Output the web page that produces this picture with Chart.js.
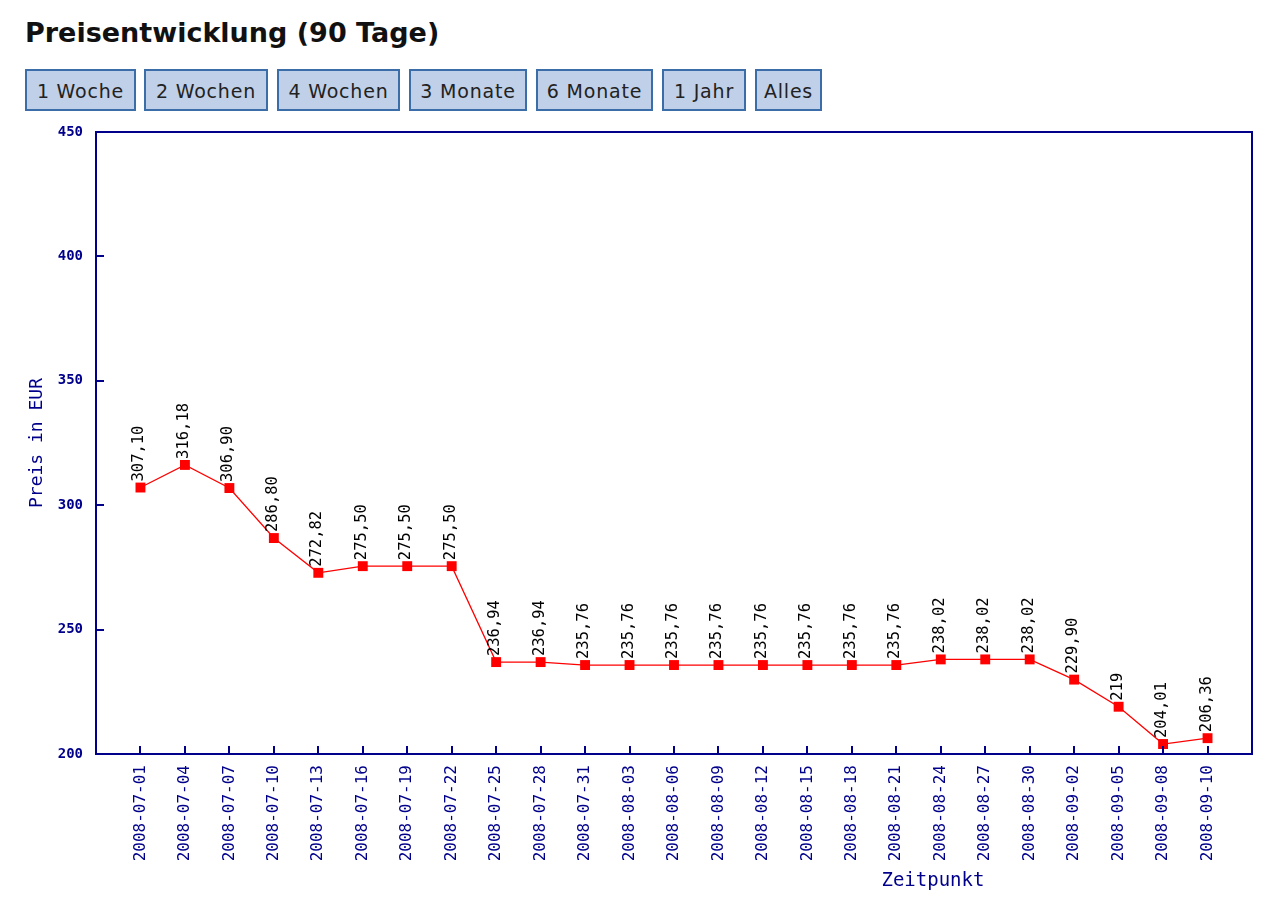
<!DOCTYPE html>
<html>
<head>
<meta charset="utf-8">
<script src="https://cdn.jsdelivr.net/npm/chart.js@4.4.0/dist/chart.umd.min.js"></script>
<style>
  html, body { margin: 0; padding: 0; background: #ffffff; width: 1280px; height: 900px; overflow: hidden; }
  h1 { position: absolute; left: 25px; top: 17px; margin: 0; font: bold 27px "DejaVu Sans", Verdana, sans-serif; color: #111; letter-spacing: 0px; }
  .btn { position: absolute; top: 69px; height: 42px; box-sizing: border-box; border: 2px solid #3b6ea8; background: #c0d0e8;
         font: 19px "DejaVu Sans", Verdana, sans-serif; letter-spacing: 0.8px; color: #222; display: flex; align-items: center; justify-content: center; padding-top: 1px; }
  #wrap { position: absolute; left: 0; top: 120px; width: 1280px; height: 780px; }
</style>
</head>
<body>
<h1>Preisentwicklung (90 Tage)</h1>
<div id="btns"></div>
<div id="wrap"><canvas id="c" width="1280" height="780"></canvas></div>
<script>
const dates = ['2008-07-01','2008-07-04','2008-07-07','2008-07-10','2008-07-13','2008-07-16','2008-07-19','2008-07-22',
  '2008-07-25','2008-07-28','2008-07-31','2008-08-03','2008-08-06','2008-08-09','2008-08-12','2008-08-15','2008-08-18',
  '2008-08-21','2008-08-24','2008-08-27','2008-08-30','2008-09-02','2008-09-05','2008-09-08','2008-09-10'];
const prices = [307.10, 316.18, 306.90, 286.80, 272.82, 275.50, 275.50, 275.50,
  236.94, 236.94, 235.76, 235.76, 235.76, 235.76, 235.76, 235.76, 235.76,
  235.76, 238.02, 238.02, 238.02, 229.90, 219, 204.01, 206.36];
const yTicks = [200, 250, 300, 350, 400, 450];
const buttonLabels = ['1 Woche', '2 Wochen', '4 Wochen', '3 Monate', '6 Monate', '1 Jahr', 'Alles'];
const titleText = 'Preisentwicklung (90 Tage)';
const yAxisTitle = 'Preis in EUR';
const xAxisTitle = 'Zeitpunkt';

// buttons (HTML layout)
const btnBoxes = [[25,111],[144,124],[277,123],[409,118],[536,117],[662,84],[755,67]];
const btnsEl = document.getElementById('btns');
buttonLabels.forEach((t, i) => {
  const d = document.createElement('div');
  d.className = 'btn';
  d.textContent = t;
  d.style.left = btnBoxes[i][0] + 'px';
  d.style.width = btnBoxes[i][1] + 'px';
  btnsEl.appendChild(d);
});

const NAVY = '#00008b';
const fmt = v => Number.isInteger(v) ? String(v) : v.toFixed(2).replace('.', ',');

const framePlugin = {
  id: 'frame',
  afterDraw(chart) {
    const {ctx, chartArea: a, scales} = chart;
    ctx.save();
    ctx.strokeStyle = NAVY;
    ctx.lineWidth = 2;
    ctx.strokeRect(a.left, a.top, a.right - a.left, a.bottom - a.top);
    ctx.lineWidth = 2;
    ctx.beginPath();
    scales.y.ticks.forEach(t => {
      const y = Math.round(scales.y.getPixelForValue(t.value));
      ctx.moveTo(a.left, y); ctx.lineTo(a.left + 8, y);
    });
    scales.x.ticks.forEach(t => {
      const x = Math.round(scales.x.getPixelForValue(t.value));
      ctx.moveTo(x, a.bottom); ctx.lineTo(x, a.bottom - 8);
    });
    ctx.stroke();
    // x axis title
    ctx.fillStyle = NAVY;
    ctx.font = '19px "DejaVu Sans Mono", monospace';
    ctx.textAlign = 'center';
    ctx.textBaseline = 'middle';
    ctx.fillText(xAxisTitle, a.left + (a.right - a.left) * 0.724, a.bottom + 127);
    ctx.restore();
  },
  afterDatasetsDraw(chart) {
    const {ctx} = chart;
    const meta = chart.getDatasetMeta(0);
    ctx.save();
    ctx.fillStyle = '#000';
    ctx.font = '15.5px "DejaVu Sans Mono", monospace';
    ctx.textAlign = 'left';
    ctx.textBaseline = 'middle';
    meta.data.forEach((pt, i) => {
      ctx.save();
      ctx.translate(pt.x - 1, pt.y - 6);
      ctx.rotate(-Math.PI / 2);
      ctx.fillText(fmt(prices[i]), 0, 0);
      ctx.restore();
    });
    ctx.restore();
  }
};

new Chart(document.getElementById('c'), {
  type: 'line',
  data: {
    datasets: [{
      data: prices.map((p, i) => ({x: i, y: p})),
      borderColor: '#ff0000',
      borderWidth: 1.3,
      pointStyle: 'rect',
      pointRadius: 7,
      pointBackgroundColor: '#ff0000',
      pointBorderColor: '#ff0000',
      pointBorderWidth: 0,
      tension: 0,
      fill: false
    }]
  },
  options: {
    responsive: false,
    devicePixelRatio: 1,
    animation: false,
    layout: { padding: { top: 12, right: 28, bottom: 0, left: 0 } },
    plugins: { legend: { display: false }, tooltip: { enabled: false }, title: { display: false } },
    scales: {
      x: {
        type: 'linear',
        min: -1,
        max: dates.length,
        afterBuildTicks(scale) { scale.ticks = dates.map((d, i) => ({ value: i })); },
        afterFit(scale) { scale.height = 146; },
        grid: { display: false, drawTicks: false },
        border: { display: false },
        ticks: {
          autoSkip: false,
          minRotation: 90,
          maxRotation: 90,
          padding: 11,
          color: NAVY,
          font: { family: '"DejaVu Sans Mono", monospace', size: 16 },
          callback: v => dates[v] ?? ''
        }
      },
      y: {
        type: 'linear',
        min: yTicks[0],
        max: yTicks[yTicks.length - 1],
        afterBuildTicks(scale) { scale.ticks = yTicks.map(v => ({ value: v })); },
        afterFit(scale) { scale.width = 96; },
        grid: { display: false, drawTicks: true, tickLength: 13 },
        border: { display: false },
        ticks: {
          padding: 0,
          color: NAVY,
          font: { family: '"DejaVu Sans Mono", monospace', size: 14, weight: 'bold' },
          callback: v => String(v)
        },
        title: {
          display: true,
          text: yAxisTitle,
          color: NAVY,
          font: { family: '"DejaVu Sans Mono", monospace', size: 18 },
          padding: { top: 27, bottom: 0 }
        }
      }
    }
  },
  plugins: [framePlugin]
});
</script>
</body>
</html>
